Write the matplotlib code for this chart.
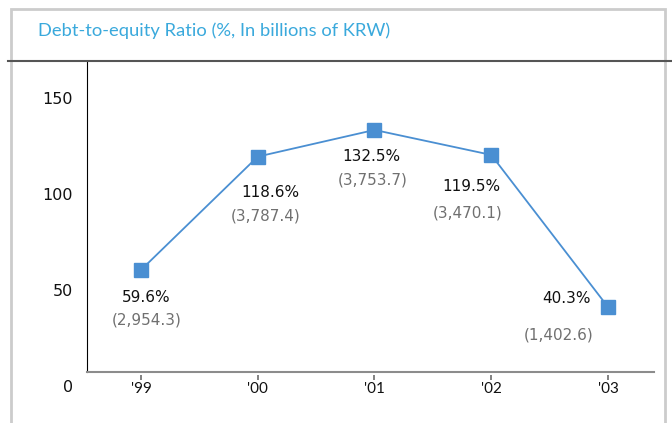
import matplotlib
matplotlib.use("Agg")
import matplotlib.pyplot as plt
from matplotlib.lines import Line2D
from matplotlib.patches import Rectangle
from matplotlib.transforms import offset_copy

# ---- data ----
years = ["'99", "'00", "'01", "'02", "'03"]
ratio = [59.6, 118.6, 132.5, 119.5, 40.3]
debt = ["(2,954.3)", "(3,787.4)", "(3,753.7)", "(3,470.1)", "(1,402.6)"]
ratio_labels = ["59.6%", "118.6%", "132.5%", "119.5%", "40.3%"]
yticks = [0, 50, 100, 150]
title = "Debt-to-equity Ratio (%, In billions of KRW)"

# ---- style / layout ----
W, H = 672, 423
fig = plt.figure(figsize=(W / 100, H / 100), dpi=100)
fig.patch.set_facecolor("white")

blue = "#4a8fd2"
title_blue = "#3aa9dc"

# outer light-gray frame
fig.patches.append(Rectangle((10.5 / W, -0.05), (664.5 - 10.5) / W, 1.05 - 9.5 / H,
                             transform=fig.transFigure, fill=False,
                             edgecolor="#cccccc", lw=2.0))
# dark separator under title
fig.lines.append(Line2D([8 / W, 1.0], [1 - 61 / H] * 2, transform=fig.transFigure,
                        color="#555555", lw=1.5))
fig.text(38 / W, 1 - 31 / H, title, color=title_blue, fontsize=13.2,
         family="Lato", va="center", ha="left")

ax_l, ax_r, ax_t, ax_b = 87, 654, 61, 372
ax = fig.add_axes([ax_l / W, 1 - ax_b / H, (ax_r - ax_l) / W, (ax_b - ax_t) / H])
ax.set_facecolor("none")

x = list(range(len(years)))
ax.plot(x, ratio, color=blue, lw=1.3, marker="s", markersize=10,
        markerfacecolor=blue, markeredgecolor=blue, clip_on=False, zorder=3)

ax.set_xlim(-0.4625, 4.394)
ax.set_ylim(6.46, 168.4)

for s in ["top", "right"]:
    ax.spines[s].set_visible(False)
ax.spines["left"].set_color("black")
ax.spines["left"].set_linewidth(0.8)
ax.spines["bottom"].set_color("#8c8c8c")
ax.spines["bottom"].set_linewidth(1.5)

# y tick labels (0 lies below visible range, so draw as text)
ax.set_yticks([])
ytrans = offset_copy(ax.get_yaxis_transform(), fig=fig, x=-14, y=-3, units="dots")
for v in yticks:
    ax.text(0, v, str(v), transform=ytrans, ha="right", va="center",
            fontsize=11.5, color="#111111", clip_on=False)

# x ticks with gap below axis
ax.set_xticks(x)
ax.set_xticklabels(years, fontsize=11, family="Lato", color="#111111")
ax.tick_params(axis="x", length=0, pad=7)
ax.vlines(x, -3 / 311, -8 / 311, transform=ax.get_xaxis_transform(),
          color="#777777", lw=1.3, clip_on=False)

# annotations
off1 = [(5, -28), (13, -36), (-3, -27), (-20, -32), (-42, 9)]
off2 = [(6, -50), (8, -59), (-2, -50), (-24, -58), (-49, -28)]
for i in range(len(years)):
    ax.annotate(ratio_labels[i], (x[i], ratio[i]), xytext=off1[i],
                textcoords="offset pixels", ha="center", va="center",
                fontsize=11, color="#111111", annotation_clip=False)
    ax.annotate(debt[i], (x[i], ratio[i]), xytext=off2[i],
                textcoords="offset pixels", ha="center", va="center",
                fontsize=11, color="#707070", annotation_clip=False)

fig.savefig("out.png", dpi=100)
